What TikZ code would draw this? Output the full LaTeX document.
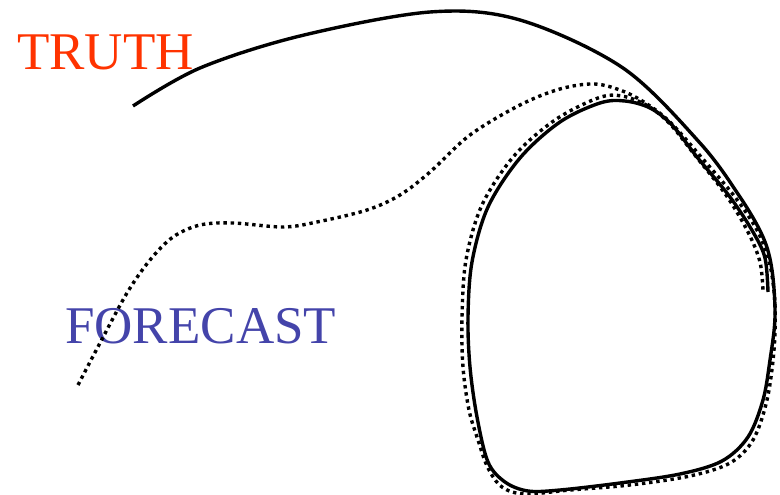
\documentclass[tikz,border=0pt]{standalone}
\usepackage{fontspec}
\setmainfont{Liberation Serif}
\usepackage{xcolor}
\usepackage{tikz}
\definecolor{truthred}{RGB}{255,51,0}
\definecolor{forecastblue}{RGB}{68,68,170}

\begin{document}
\begin{tikzpicture}[x=1pt,y=-1pt,
  truth/.style={draw=black,line width=3.4pt,line join=round},
  forecast/.style={draw=black,line width=3.4pt,dash pattern=on 3.4pt off 3.8pt},
  label/.style={inner sep=0pt,anchor=base west,font=\fontsize{53}{60}\selectfont}
]
\useasboundingbox (0,0) rectangle (780,495);

\node[label,text=truthred] (truthlabel) at (17,70) {TRUTH};
\node[label,text=forecastblue] (forecastlabel) at (65,343) {FORECAST};

% truth: big arc, then the loop
\draw[truth] plot[smooth,tension=0.55] coordinates {
  (133,106) (200,68) (300,36) (430,12) (520,20) (623,68)
  (700,143) (740,197) (763,237) (772,270) (775,317) (770,360) (763,400)
  (748,437) (722,461) (680,474) (620,483) (560,490) (528,491) (505,482)
  (488,462) (477,417) (470,367) (468,317) (472,262) (488,207) (520,158)
  (560,122) (600,103) (625,101) (650,108) (672,125) (697,157) (730,197)
  (753,232) (765,258) (768,292)};

% forecast: wavy start, then the loop
\draw[forecast] plot[smooth,tension=0.55] coordinates {
  (78,385) (100,343) (127,293) (150,260) (173,237) (200,225) (233,223)
  (283,227) (317,222) (367,210) (400,195) (430,172) (470,135) (520,105)
  (560,89) (595,84) (625,92) (650,106) (672,124) (702,158) (735,197)
  (758,232) (770,265) (775,305) (774,350) (767,400) (753,440) (730,463)
  (690,476) (630,485) (570,490) (525,494) (502,487) (488,468) (478,440)
  (469,410) (463,367) (462,317) (466,260) (482,205) (514,156) (555,120)
  (598,98) (622,96) (648,106) (670,124) (694,154) (726,195) (748,232)
  (760,262) (763,291)};
\end{tikzpicture}
\end{document}
